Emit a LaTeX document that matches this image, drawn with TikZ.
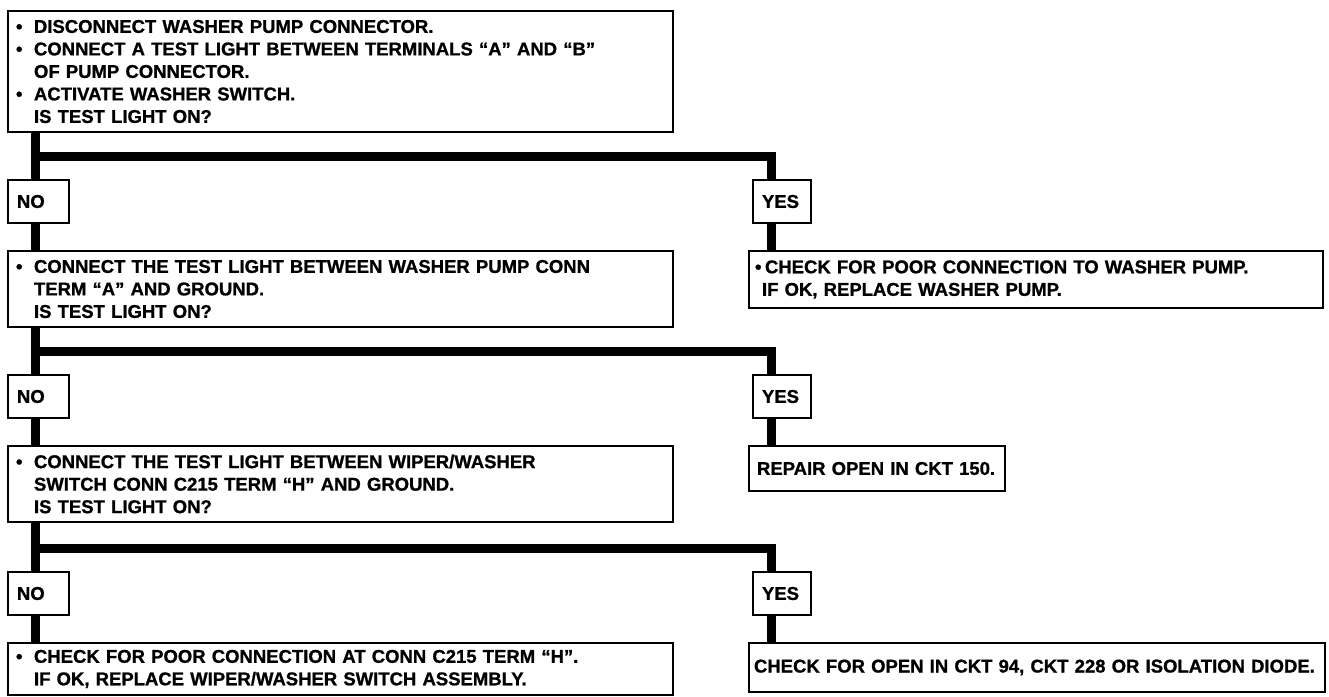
\documentclass[tikz,border=0pt]{standalone}
\usepackage{fontspec}
\setmainfont{Liberation Sans}[BoldFeatures={FakeBold=1}]
\usetikzlibrary{positioning,calc}

\newcommand{\bul}{\makebox[18pt][l]{\textbullet}}
\newcommand{\ind}{\hspace*{18pt}}

\begin{document}
\begin{tikzpicture}[x=1pt,y=-1pt,
  every node/.style={font=\bfseries\fontsize{18.5}{22.5}\selectfont},
  box/.style={draw,line width=2pt,anchor=north west,align=left,inner xsep=8pt,inner ysep=0pt},
  ans/.style={box,inner xsep=9pt,minimum height=43pt},
  bar/.style={line width=9pt,line join=miter}]
  \useasboundingbox (0,0) rectangle (1329,696);
  \coordinate (tn) at (35,0);
  \coordinate (ty) at (771,0);
  \coordinate (b1) at (0,156);
  \coordinate (b2) at (0,351);
  \coordinate (b3) at (0,548);

  \node[box,text width=649pt,minimum height=121pt] (q1) at (7,10)
    {\bul DISCONNECT WASHER PUMP CONNECTOR.\\
     \bul CONNECT A TEST LIGHT BETWEEN TERMINALS “A” AND “B”\\
     \ind OF PUMP CONNECTOR.\\
     \bul ACTIVATE WASHER SWITCH.\\
     \ind IS TEST LIGHT ON?};
  \node[ans,text width=43pt] (n1) at (7,179) {NO};
  \node[ans,text width=40pt] (y1) at (752,179) {YES};

  \node[box,text width=649pt,minimum height=76pt] (q2) at (7,250)
    {\bul CONNECT THE TEST LIGHT BETWEEN WASHER PUMP CONN\\
     \ind TERM “A” AND GROUND.\\
     \ind IS TEST LIGHT ON?};
  \node[box,inner xsep=6pt,text width=562pt,minimum height=57pt] (r1) at (748,250)
    {\makebox[10pt][l]{\textbullet}CHECK FOR POOR CONNECTION TO WASHER PUMP.\\
     \hspace*{7pt}IF OK, REPLACE WASHER PUMP.};
  \node[ans,text width=43pt] (n2) at (7,374) {NO};
  \node[ans,text width=40pt] (y2) at (752,374) {YES};

  \node[box,text width=649pt,minimum height=76pt] (q3) at (7,445)
    {\bul CONNECT THE TEST LIGHT BETWEEN WIPER/WASHER\\
     \ind SWITCH CONN C215 TERM “H” AND GROUND.\\
     \ind IS TEST LIGHT ON?};
  \node[box,text width=240pt,minimum height=45pt] (r2) at (748,445)
    {REPAIR OPEN IN CKT 150.};
  \node[ans,text width=43pt] (n3) at (7,571) {NO};
  \node[ans,text width=40pt] (y3) at (752,571) {YES};

  \node[box,text width=649pt,minimum height=52pt] (q4) at (7,642)
    {\bul CHECK FOR POOR CONNECTION AT CONN C215 TERM “H”.\\
     \ind IF OK, REPLACE WIPER/WASHER SWITCH ASSEMBLY.};
  \node[box,inner xsep=5pt,text width=566pt,minimum height=49pt] (r3) at (748,642)
    {CHECK FOR OPEN IN CKT 94, CKT 228 OR ISOLATION DIODE.};

  % first test
  \draw[bar] (q1.south -| tn) -- (n1.north -| tn);
  \draw[bar] (tn |- b1) -- (ty |- b1) -- (y1.north -| ty);
  \draw[bar] (n1.south -| tn) -- (q2.north -| tn);
  \draw[bar] (y1.south -| ty) -- (r1.north -| ty);
  % second test
  \draw[bar] (q2.south -| tn) -- (n2.north -| tn);
  \draw[bar] (tn |- b2) -- (ty |- b2) -- (y2.north -| ty);
  \draw[bar] (n2.south -| tn) -- (q3.north -| tn);
  \draw[bar] (y2.south -| ty) -- (r2.north -| ty);
  % third test
  \draw[bar] (q3.south -| tn) -- (n3.north -| tn);
  \draw[bar] (tn |- b3) -- (ty |- b3) -- (y3.north -| ty);
  \draw[bar] (n3.south -| tn) -- (q4.north -| tn);
  \draw[bar] (y3.south -| ty) -- (r3.north -| ty);
\end{tikzpicture}
\end{document}
